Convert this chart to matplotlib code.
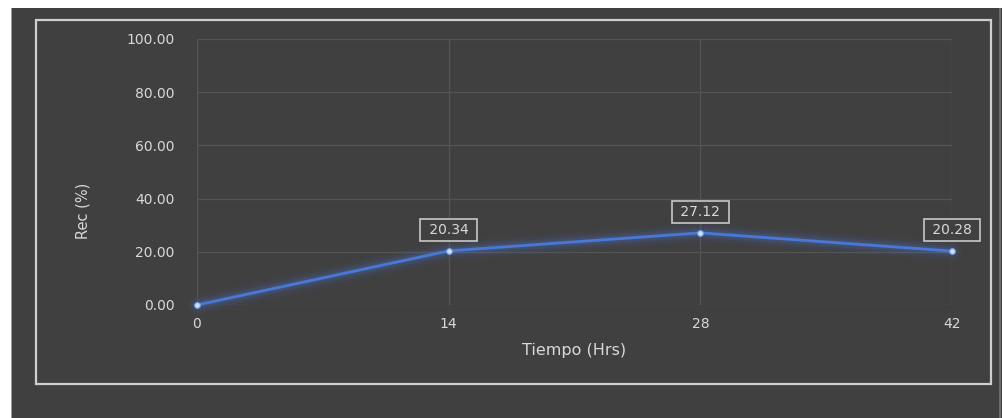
import matplotlib
matplotlib.use("Agg")
import matplotlib.pyplot as plt
from matplotlib.patches import Rectangle

# Data
tiempo_hrs = [0, 14, 28, 42]
recuperacion = [0.00, 20.34, 27.12, 20.28]
x_ticks = [0, 14, 28, 42]
y_ticks = [0, 20, 40, 60, 80, 100]

W, H = 1003, 418
fig = plt.figure(figsize=(W / 100, H / 100), dpi=100, facecolor="white")

BG = "#404040"
TXT = "#d9d9d9"
GRID = "#545454"
LINE = "#4a78d6"

def px_rect(x0, y0, x1, y1, **kw):
    # rectangle given in pixel coordinates measured from the top-left corner
    return Rectangle((x0 / W, 1 - y1 / H), (x1 - x0) / W, (y1 - y0) / H,
                     transform=fig.transFigure, **kw)

# dark canvas and its frames
fig.patches.append(px_rect(11, 8, W, H, facecolor=BG, edgecolor="none", zorder=-3))
fig.patches.append(px_rect(11, 8, 12.5, H, facecolor="#9a9a9a", edgecolor="none", zorder=-2))
fig.patches.append(px_rect(999.5, 8, 1001, H, facecolor="#6a6a6a", edgecolor="none", zorder=-2))
fig.patches.append(px_rect(36, 19.5, 991, 384, facecolor="none", edgecolor="#cfcfcf",
                           linewidth=1.6, zorder=-2))

ax = fig.add_axes([197 / W, 1 - 305 / H, (952 - 197) / W, (305 - 39) / H])
ax.set_zorder(2)
ax.set_facecolor("none")
ax.set_xlim(0, 42)
ax.set_ylim(0, 100)
ax.set_xticks(x_ticks)
ax.set_yticks(y_ticks)
ax.set_yticklabels([f"{v:.2f}" for v in y_ticks])
ax.grid(True, color=GRID, linewidth=1.0)
ax.set_axisbelow(True)
for s in ax.spines.values():
    s.set_visible(False)
ax.tick_params(length=0, colors=TXT, labelsize=10)
ax.tick_params(axis="y", pad=16)
ax.tick_params(axis="x", pad=9)

ax.set_xlabel("Tiempo (Hrs)", color=TXT, fontsize=11.5, labelpad=8)
ax.set_ylabel("Rec (%)", color=TXT, fontsize=10.5)
ax.yaxis.set_label_coords(-0.1417, 0.353)

# soft glow under the series line
for lw, a in [(14, 0.05), (10, 0.07), (7, 0.10), (4.5, 0.14)]:
    ax.plot(tiempo_hrs, recuperacion, color=LINE, linewidth=lw, alpha=a,
            solid_capstyle="round", clip_on=False, zorder=2)
ax.plot(tiempo_hrs, recuperacion, color=LINE, linewidth=2, clip_on=False, zorder=3)
ax.plot(tiempo_hrs, recuperacion, linestyle="none", marker="o", markersize=4,
        markerfacecolor="#cfe0ff", markeredgecolor="#7fa6f0", markeredgewidth=0.8,
        clip_on=False, zorder=4)

# value labels
for xv, yv in zip(tiempo_hrs, recuperacion):
    if yv == 0:
        continue
    ax.annotate(f" {yv:.2f} ", (xv, yv), xytext=(0, 15), textcoords="offset points",
                ha="center", va="center", color=TXT, fontsize=10,
                bbox=dict(boxstyle="square,pad=0.3", facecolor=BG,
                          edgecolor="#c8c8c8", linewidth=1.2),
                annotation_clip=False, zorder=5)

fig.savefig("out.png", dpi=100, facecolor="white")
